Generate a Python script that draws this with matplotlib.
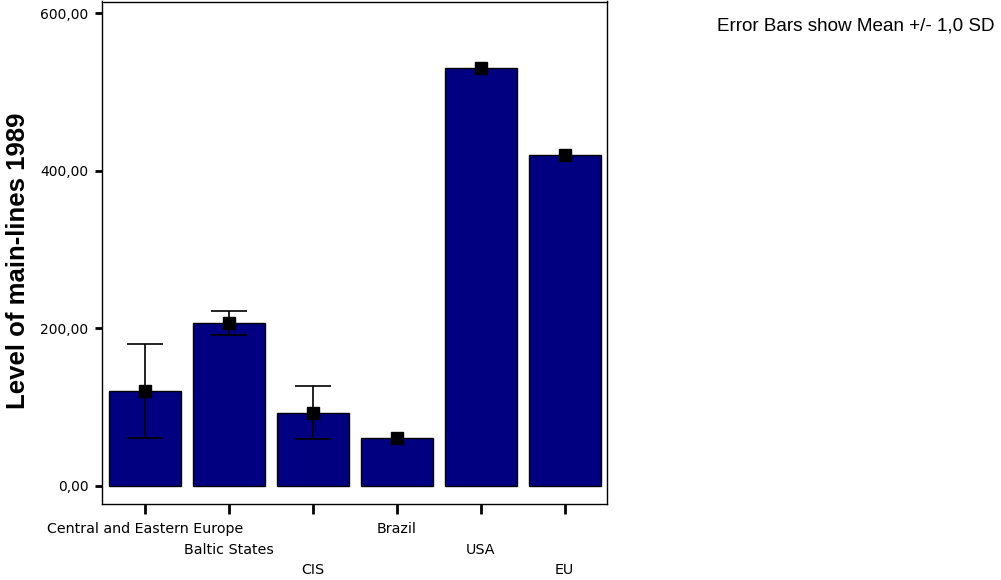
import numpy as np
import matplotlib
matplotlib.use('Agg')
import matplotlib.pyplot as plt

# 各地区 1989 年主线水平（均值与标准差，单一观测无标准差记为 0）
regions = ['Central and Eastern Europe', 'Baltic States', 'CIS', 'Brazil', 'USA', 'EU']
means = [120.5, 207.0, 93.0, 60.5, 531.0, 420.5]
sds = [59.7, 15.5, 34.0, 0.0, 0.0, 0.0]
label_rows = [0, 1, 2, 0, 1, 2]

plt.rcParams['font.family'] = ['Liberation Sans', 'DejaVu Sans']

fig = plt.figure(figsize=(10.01, 5.8), dpi=100)
ax = fig.add_axes([102.3 / 1001, 1 - 503.5 / 580, (606.7 - 102.3) / 1001, (503.5 - 1.5) / 580])

x = np.arange(len(regions))
ax.bar(x, means, width=0.857, color='#000080', edgecolor='black', linewidth=1.0, zorder=2)

# 只给有标准差的组画误差线
has_sd = np.array(sds) > 0
ax.errorbar(x[has_sd], np.array(means)[has_sd], yerr=np.array(sds)[has_sd], fmt='none',
            ecolor='black', elinewidth=1.2, capsize=13, capthick=1.2, zorder=3)
ax.plot(x, means, 's', color='black', markersize=8, zorder=4)

ax.set_xlim(-0.51, 5.5)
ax.set_ylim(-22.5, 615)
ax.set_yticks([0, 200, 400, 600])
ax.set_yticklabels(['0,00', '200,00', '400,00', '600,00'], fontsize=10, family='DejaVu Sans')
ax.set_xticks(x)
ax.set_xticklabels(regions, fontsize=10.3, family='DejaVu Sans')
ax.tick_params(axis='y', length=5, width=2, pad=5)
ax.tick_params(axis='x', length=7, width=2)
# 标签分三行错开
for tick, r in zip(ax.xaxis.get_major_ticks(), label_rows):
    tick.set_pad(6.5 + r * 14.6)
for s in ax.spines.values():
    s.set_linewidth(1.0)

ax.set_ylabel('Level of main-lines 1989', fontsize=18.5, fontweight='bold')
ax.yaxis.set_label_coords(-0.143, 0.483)

fig.text(717 / 1001, 1 - 26 / 580, 'Error Bars show Mean +/- 1,0 SD', fontsize=13.6,
         va='center', ha='left')

fig.savefig('out.png', dpi=100)
